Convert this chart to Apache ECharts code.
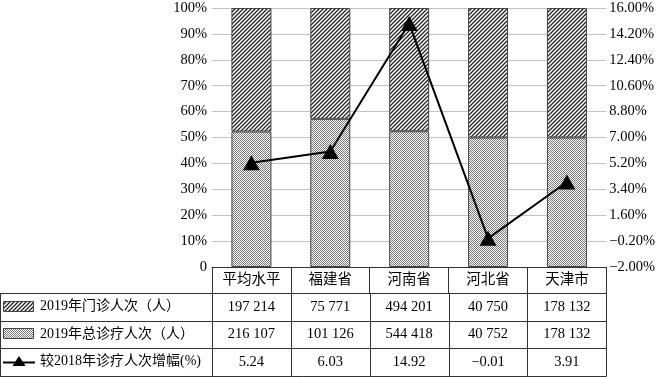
<!DOCTYPE html>
<html>
<head>
<meta charset="utf-8">
<script src="https://cdn.jsdelivr.net/npm/echarts@6/dist/echarts.min.js"></script>
<style>
html, body { margin: 0; padding: 0; background: #fff; }
#main { width: 658px; height: 377px; }
</style>
</head>
<body>
<div id="main"></div>
<script>
var categories = ['平均水平', '福建省', '河南省', '河北省', '天津市'];
var outpatient = [197214, 75771, 494201, 40750, 178132];
var totalVisits = [216107, 101126, 544418, 40752, 178132];
var growth = [5.24, 6.03, 14.92, -0.01, 3.91];
// bar shares (%)
var outShare = [47.7, 42.8, 47.6, 50.0, 50.0];
var totalShare = [52.3, 57.2, 52.4, 50.0, 50.0];
var leftTicks = { min: 0, max: 100, interval: 10 };
var rightTicks = { min: -2, max: 16, interval: 1.8 };

var FONT = '"Liberation Serif", "Noto Sans CJK SC", serif';
var nameOut = '2019年门诊人次（人）';
var nameTotal = '2019年总诊疗人次（人）';
var nameGrowth = '较2018年诊疗人次增幅(%)';

function hatch() {
    var c = document.createElement('canvas');
    c.width = 4; c.height = 4;
    var g = c.getContext('2d');
    g.fillStyle = '#fff';
    g.fillRect(0, 0, 4, 4);
    g.strokeStyle = '#222';
    g.lineWidth = 1.25;
    g.beginPath();
    g.moveTo(0, 4); g.lineTo(4, 0);
    g.moveTo(-1, 1); g.lineTo(1, -1);
    g.moveTo(3, 5); g.lineTo(5, 3);
    g.stroke();
    return c;
}

function dots() {
    var c = document.createElement('canvas');
    c.width = 4; c.height = 4;
    var g = c.getContext('2d');
    g.fillStyle = '#fff';
    g.fillRect(0, 0, 4, 4);
    g.fillStyle = '#7a7a7a';
    for (var x = 0; x < 4; x++) {
        for (var y = 0; y < 4; y++) {
            if ((x + y) % 2 == 0) g.fillRect(x, y, 1, 1);
        }
    }
    return c;
}

function fmtInt(n) {
    return String(n).replace(/\B(?=(\d{3})+(?!\d))/g, ' ');
}
function fmtSigned(v, d) {
    return (v < 0 ? '\u2212' : '') + Math.abs(v).toFixed(d);
}

var hatchFill = { image: hatch(), repeat: 'repeat' };
var dotFill = { image: dots(), repeat: 'repeat' };

var myChart = echarts.init(document.getElementById('main'));

var option = {
    animation: false,
    textStyle: { fontFamily: FONT },
    grid: { left: 212, right: 50, top: 8, bottom: 110 },
    xAxis: {
        type: 'category',
        data: categories,
        axisLine: { lineStyle: { color: '#333', width: 1 } },
        axisTick: { show: true, length: 26, lineStyle: { color: '#333' } },
        axisLabel: { interval: 0, margin: 6, fontSize: 14.5, color: '#000', fontFamily: FONT }
    },
    yAxis: [
        {
            type: 'value',
            min: leftTicks.min,
            max: leftTicks.max,
            interval: leftTicks.interval,
            axisLine: { show: false },
            axisTick: { show: false },
            splitLine: { lineStyle: { color: '#c4c4c4' } },
            axisLabel: {
                margin: 5, fontSize: 14.5, color: '#000', fontFamily: FONT,
                formatter: function (v) { return v == 0 ? '0' : v + '%'; }
            }
        },
        {
            type: 'value',
            position: 'right',
            min: rightTicks.min,
            max: rightTicks.max,
            interval: rightTicks.interval,
            axisLine: { show: false },
            axisTick: { show: false },
            splitLine: { show: false },
            axisLabel: {
                margin: 3, fontSize: 14.5, color: '#000', fontFamily: FONT,
                formatter: function (v) { return fmtSigned(v, 2) + '%'; }
            }
        }
    ],
    series: [
        {
            name: nameTotal,
            type: 'bar',
            stack: 'share',
            barWidth: 40,
            data: totalShare,
            itemStyle: { color: dotFill, borderColor: '#444', borderWidth: 1 }
        },
        {
            name: nameOut,
            type: 'bar',
            stack: 'share',
            barWidth: 40,
            data: outShare,
            itemStyle: { color: hatchFill, borderColor: '#444', borderWidth: 1 }
        },
        {
            name: nameGrowth,
            type: 'line',
            yAxisIndex: 1,
            data: growth,
            z: 10,
            symbol: 'triangle',
            symbolSize: [17, 15],
            itemStyle: { color: '#000' },
            lineStyle: { color: '#000', width: 2 }
        }
    ]
};
myChart.setOption(option);

// data table under the x axis, cells placed with the axis scale
function buildTable() {
    var c0 = myChart.convertToPixel({ xAxisIndex: 0 }, categories[0]);
    var c1 = myChart.convertToPixel({ xAxisIndex: 0 }, categories[1]);
    var half = (c1 - c0) / 2;
    var yTop = myChart.convertToPixel({ yAxisIndex: 0 }, 0);
    var headH = 26, rowH = 27.5;
    var rows = [
        outpatient.map(fmtInt),
        totalVisits.map(fmtInt),
        growth.map(function (v) { return fmtSigned(v, 2); })
    ];
    var names = [nameOut, nameTotal, nameGrowth];
    var right = myChart.convertToPixel({ xAxisIndex: 0 }, categories[categories.length - 1]) + half;
    var bottom = Math.min(yTop + headH + rows.length * rowH, 376);
    var els = [];
    var line = { stroke: '#333', lineWidth: 1 };
    for (var k = 0; k <= rows.length; k++) {
        var y = Math.round(Math.min(yTop + headH + k * rowH, 376)) + 0.5;
        els.push({ type: 'line', shape: { x1: 0, y1: y, x2: right, y2: y }, style: line });
    }
    var yRow = Math.round(yTop + headH);
    els.push({ type: 'line', shape: { x1: 0.5, y1: yRow, x2: 0.5, y2: bottom + 1 }, style: line });
    for (var i = 0; i <= categories.length; i++) {
        var x = Math.round(c0 - half + i * 2 * half) + 0.5;
        els.push({ type: 'line', shape: { x1: x, y1: yRow, x2: x, y2: bottom + 1 }, style: line });
    }
    rows.forEach(function (row, r) {
        var cy = yTop + headH + r * rowH + rowH / 2;
        row.forEach(function (txt, i) {
            els.push({
                type: 'text',
                x: myChart.convertToPixel({ xAxisIndex: 0 }, categories[i]),
                y: cy,
                style: {
                    text: txt, fill: '#000', font: '14.5px ' + FONT,
                    align: 'center', verticalAlign: 'middle'
                }
            });
        });
        // legend key in the first column
        var cyr = Math.round(cy);
        if (r < 2) {
            els.push({
                type: 'rect',
                shape: { x: 3.5, y: cyr - 5.5, width: 30, height: 10 },
                style: { fill: r == 0 ? hatchFill : dotFill, stroke: '#444', lineWidth: 1 }
            });
        } else {
            els.push({
                type: 'line',
                shape: { x1: 3, y1: cyr + 0.5, x2: 35, y2: cyr + 0.5 },
                style: { stroke: '#000', lineWidth: 2 }
            });
            els.push({
                type: 'polygon',
                shape: { points: [[19, cyr - 6], [12.5, cyr + 4], [25.5, cyr + 4]] },
                style: { fill: '#000' }
            });
        }
        els.push({
            type: 'text',
            x: 40,
            y: cy,
            style: {
                text: names[r], fill: '#000', font: '14px ' + FONT,
                align: 'left', verticalAlign: 'middle'
            }
        });
    });
    myChart.setOption({ graphic: els });
}
buildTable();
</script>
</body>
</html>
